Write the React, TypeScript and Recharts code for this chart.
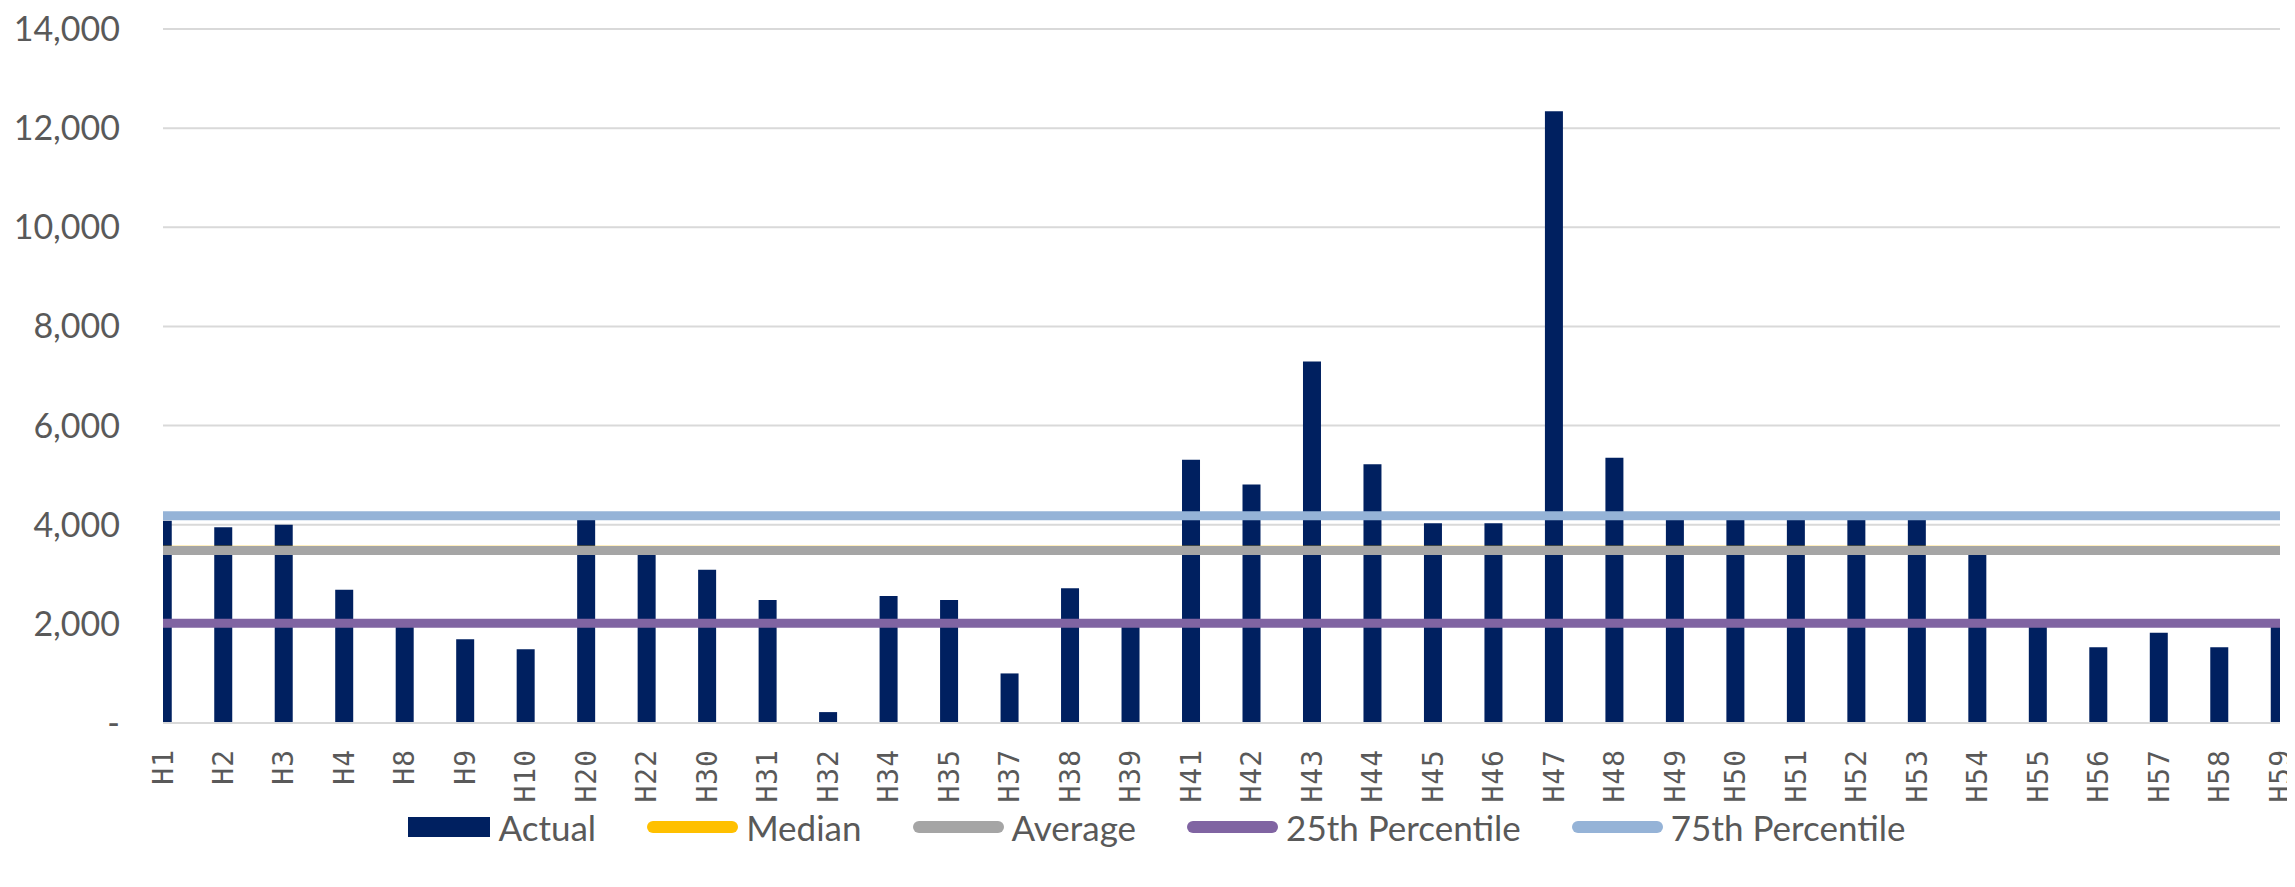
import { Bar, CartesianGrid, ComposedChart, Legend, Line, XAxis, YAxis } from 'recharts';

const categories = [
  'H1', 'H2', 'H3', 'H4', 'H8', 'H9', 'H10', 'H20', 'H22', 'H30', 'H31', 'H32',
  'H34', 'H35', 'H37', 'H38', 'H39', 'H41', 'H42', 'H43', 'H44', 'H45', 'H46', 'H47',
  'H48', 'H49', 'H50', 'H51', 'H52', 'H53', 'H54', 'H55', 'H56', 'H57', 'H58', 'H59',
];
const actual = [
  4080, 3950, 4000, 2690, 1990, 1690, 1490, 4100, 3450, 3090, 2480, 220,
  2560, 2480, 1000, 2720, 1980, 5310, 4810, 7290, 5220, 4030, 4030, 12340,
  5350, 4100, 4100, 4100, 4100, 4100, 3450, 1990, 1530, 1820, 1530, 2000,
];
const medianValue = 3483;
const averageValue = 3480;
const p25Value = 2010;
const p75Value = 4180;
const yTicks = [0, 2000, 4000, 6000, 8000, 10000, 12000, 14000];

const rows = categories.map((name, idx) => ({
  idx,
  name,
  actual: actual[idx],
  median: medianValue,
  average: averageValue,
  p25: p25Value,
  p75: p75Value,
}));

const FONT = 'Lato, "Open Sans", sans-serif';
const TEXT = '#595959';

const legendItems = [
  { label: 'Actual', color: '#002060', bar: true },
  { label: 'Median', color: '#FFC000' },
  { label: 'Average', color: '#A5A5A5' },
  { label: '25th Percentile', color: '#8064A2' },
  { label: '75th Percentile', color: '#95B3D7' },
];

function XTick({ x, y, payload }: any) {
  return (
    <text
      x={x}
      y={y}
      transform={`rotate(-90 ${x} ${y})`}
      textAnchor="end"
      dominantBaseline="central"
      fill={TEXT}
      fontFamily='"DejaVu Sans Mono", monospace'
      fontSize={28}
      letterSpacing={1}
    >
      {categories[payload.value]}
    </text>
  );
}

function LegendBox() {
  return (
    <div
      style={{
        display: 'flex',
        justifyContent: 'center',
        alignItems: 'center',
        height: 40,
        paddingLeft: 19,
        fontFamily: FONT,
        fontSize: 35,
        color: TEXT,
      }}
    >
      {legendItems.map((it, i) => (
        <div key={it.label} style={{ display: 'flex', alignItems: 'center', marginLeft: i === 0 ? 0 : 51 }}>
          <span
            style={{
              display: 'inline-block',
              width: it.bar ? 82 : 91,
              height: it.bar ? 20 : 12,
              borderRadius: it.bar ? 0 : 6,
              background: it.color,
              marginRight: 8,
            }}
          />
          <span>{it.label}</span>
        </div>
      ))}
    </div>
  );
}

export default function App() {
  return (
    <div style={{ marginLeft: -8 }}>
      <ComposedChart
        width={2295}
        height={871}
        data={rows}
        margin={{ top: 21, right: 15, bottom: 0, left: 0 }}
      >
        <CartesianGrid vertical={false} stroke="#D9D9D9" strokeWidth={2} />
        <XAxis
          dataKey="idx"
          type="number"
          domain={[0, categories.length - 1]}
          ticks={categories.map((_, i) => i)}
          interval={0}
          allowDataOverflow
          tick={<XTick />}
          tickLine={false}
          tickSize={0}
          tickMargin={26}
          axisLine={{ stroke: '#D9D9D9', strokeWidth: 2 }}
          height={116}
        />
        <YAxis
          domain={[0, 14000]}
          ticks={yTicks}
          interval={0}
          width={163}
          axisLine={false}
          tickLine={false}
          tickSize={0}
          tickMargin={43}
          tick={{ fill: TEXT, fontFamily: FONT, fontSize: 34 }}
          tickFormatter={(v: number) => (v === 0 ? '-' : v.toLocaleString('en-US'))}
        />
        <Legend
          verticalAlign="bottom"
          content={<LegendBox />}
          wrapperStyle={{ top: 799, left: 0, width: 2295 }}
        />
        <Bar dataKey="actual" name="Actual" fill="#002060" barSize={18} isAnimationActive={false} />
        <Line dataKey="median" name="Median" stroke="#FFC000" strokeWidth={9} dot={false} activeDot={false} isAnimationActive={false} />
        <Line dataKey="average" name="Average" stroke="#A5A5A5" strokeWidth={9} dot={false} activeDot={false} isAnimationActive={false} />
        <Line dataKey="p25" name="25th Percentile" stroke="#8064A2" strokeWidth={9} dot={false} activeDot={false} isAnimationActive={false} />
        <Line dataKey="p75" name="75th Percentile" stroke="#95B3D7" strokeWidth={9} dot={false} activeDot={false} isAnimationActive={false} />
      </ComposedChart>
    </div>
  );
}
